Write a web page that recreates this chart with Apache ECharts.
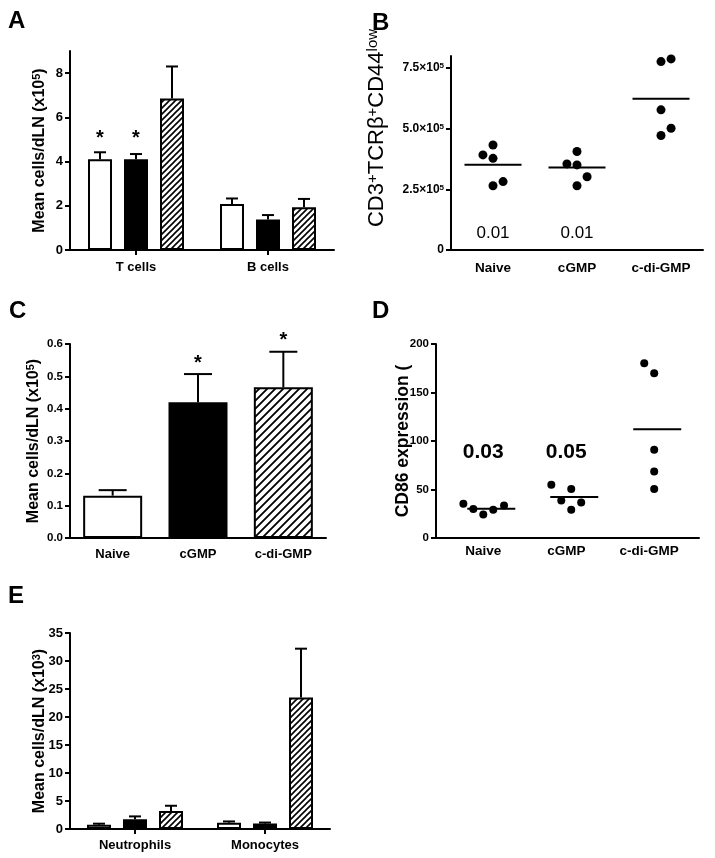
<!DOCTYPE html>
<html><head><meta charset="utf-8">
<script src="https://cdn.jsdelivr.net/npm/echarts@6/dist/echarts.min.js"></script>
<style>html,body{margin:0;padding:0;background:#fff}#c{width:715px;height:858px}</style>
</head><body><div id="c"></div>
<script>
// ---------- Panel A ----------
const catsA = ['T cells', 'B cells'];
const naiveA = [4.10, 2.08];
const naiveAErr = [0.32, 0.25];
const cgmpA = [4.10, 1.38];
const cgmpAErr = [0.24, 0.20];
const cdiA = [6.85, 1.93];
const cdiAErr = [1.45, 0.38];
const sigNaiveA = ['*', ''];
const sigCgmpA = ['*', ''];
const sigCdiA = ['', ''];
const ticksA = [0, 2, 4, 6, 8];

// ---------- Panel B ----------
const groupsBD = ['Naive', 'cGMP', 'c-di-GMP'];
const naiveB = [3.92e5, 4.33e5, 3.78e5, 2.65e5, 2.82e5];
const naiveBJit = [-0.12, 0, 0, 0, 0.12];
const cgmpB = [3.55e5, 4.06e5, 3.51e5, 3.02e5, 2.65e5];
const cgmpBJit = [-0.12, 0, 0, 0.12, 0];
const cdiB = [7.77e5, 7.88e5, 5.78e5, 5.02e5, 4.72e5];
const cdiBJit = [0, 0.12, 0, 0.12, 0];
const meansB = [3.52e5, 3.40e5, 6.24e5];
const pB = ['0.01', '0.01', ''];
const ticksB = [0, 2.5e5, 5e5, 7.5e5];

// ---------- Panel C ----------
const catsC = ['Naive', 'cGMP', 'c-di-GMP'];
const meansC = [0.131, 0.420, 0.466];
const errC = [0.017, 0.087, 0.110];
const sigC = ['', '*', '*'];
const ticksC = [0, 0.1, 0.2, 0.3, 0.4, 0.5, 0.6];

// ---------- Panel D ----------
const naiveD = [35.3, 29.8, 24.3, 29.1, 33.6];
const naiveDJit = [-0.24, -0.12, 0, 0.12, 0.25];
const cgmpD = [54.9, 50.4, 38.7, 36.6, 29.1];
const cgmpDJit = [-0.18, 0.06, -0.06, 0.18, 0.06];
const cdiD = [180.1, 169.8, 90.9, 68.6, 50.4];
const cdiDJit = [-0.06, 0.06, 0.06, 0.06, 0.06];
const meansD = [30.2, 42.2, 112.2];
const pD = ['0.03', '0.05', ''];
const ticksD = [0, 50, 100, 150, 200];

// ---------- Panel E ----------
const catsE = ['Neutrophils', 'Monocytes'];
const naiveE = [0.75, 1.10];
const naiveEErr = [0.20, 0.25];
const cgmpE = [1.75, 1.00];
const cgmpEErr = [0.50, 0.15];
const cdiE = [3.20, 23.5];
const cdiEErr = [0.95, 8.7];
const ticksE = [0, 5, 10, 15, 20, 25, 30, 35];

// ---------- styling helpers ----------
const FF = '"Liberation Sans", Arial, Helvetica, sans-serif';
function hatch(step, lw) {
  const c = document.createElement('canvas');
  c.width = c.height = step;
  const g = c.getContext('2d');
  g.fillStyle = '#fff'; g.fillRect(0, 0, step, step);
  g.strokeStyle = '#000'; g.lineWidth = lw; g.lineCap = 'square';
  g.beginPath();
  g.moveTo(-2, step + 2); g.lineTo(step + 2, -2);
  g.moveTo(-2, 2); g.lineTo(2, -2);
  g.moveTo(step - 2, step + 2); g.lineTo(step + 2, step - 2);
  g.stroke();
  return c;
}
const hatchSmall = { image: hatch(6, 1.6), repeat: 'repeat' };
const hatchBig = { image: hatch(8, 1.8), repeat: 'repeat' };

const axLine = { show: true, lineStyle: { color: '#000', width: 2 } };
const tickStyle = { color: '#000', width: 2 };

function yAxis(gi, max, ticks, fmt, fontSize, name, nameGap, nameRich, namePad) {
  return {
    type: 'value', gridIndex: gi, min: 0, max: max,
    axisLine: axLine,
    axisTick: { show: true, length: 5, lineStyle: tickStyle, customValues: ticks },
    axisLabel: { customValues: ticks, formatter: fmt, color: '#000', fontFamily: FF, fontWeight: 'bold', fontSize: fontSize, margin: 7,
      rich: { m: { fontFamily: FF, fontWeight: 'bold', fontSize: fontSize, color: '#000' }, s: { fontFamily: FF, fontWeight: 'bold', fontSize: 8, color: '#000', verticalAlign: 'top', lineHeight: 8 } } },
    splitLine: { show: false },
    name: name, nameLocation: 'middle', nameGap: nameGap, nameMoveOverlap: false,
    nameTextStyle: { rich: nameRich, padding: namePad || 0 }
  };
}
function richName(size, weight, supSize) {
  return {
    t: { fontFamily: FF, fontWeight: weight, fontSize: size, color: '#000', lineHeight: size + 2 },
    s: { fontFamily: FF, fontWeight: weight, fontSize: supSize, color: '#000', verticalAlign: 'top', lineHeight: supSize }
  };
}
function catX(gi, cats, showTick, fontSize, margin) {
  return {
    type: 'category', gridIndex: gi, data: cats,
    axisLine: axLine,
    axisTick: { show: showTick, alignWithLabel: true, length: 5, lineStyle: tickStyle },
    axisLabel: { color: '#000', fontFamily: FF, fontWeight: 'bold', fontSize: fontSize, margin: margin },
    splitLine: { show: false }
  };
}
function valX(gi, min, max, margin) {
  return {
    type: 'value', gridIndex: gi, min: min, max: max,
    axisLine: axLine,
    axisTick: { show: false, customValues: [1, 2, 3] },
    axisLabel: { customValues: [1, 2, 3], formatter: v => groupsBD[Math.round(v) - 1], color: '#000', fontFamily: FF, fontWeight: 'bold', fontSize: 13.5, margin: margin },
    splitLine: { show: false }
  };
}
function errSeries(gi, means, errs, sigs, offset, capHalf, starGap) {
  return {
    type: 'custom', xAxisIndex: gi, yAxisIndex: gi, z: 5, silent: true,
    data: means.map((m, i) => [i, m, m + errs[i]]),
    renderItem: (params, api) => {
      const p0 = api.coord([api.value(0), api.value(1)]);
      const p1 = api.coord([api.value(0), api.value(2)]);
      const x = p0[0] + offset;
      const ch = [
        { type: 'line', shape: { x1: x, y1: p0[1], x2: x, y2: p1[1] }, style: { stroke: '#000', lineWidth: 2 } },
        { type: 'line', shape: { x1: x - capHalf, y1: p1[1], x2: x + capHalf, y2: p1[1] }, style: { stroke: '#000', lineWidth: 2 } }
      ];
      const s = sigs[params.dataIndex];
      if (s) ch.push({ type: 'text', style: { text: s, x: x, y: p1[1] - starGap, fill: '#000', font: 'bold 20px ' + FF, textAlign: 'center', textVerticalAlign: 'middle' } });
      return { type: 'group', children: ch };
    }
  };
}
function barSeries(gi, data, fill, width) {
  return { type: 'bar', xAxisIndex: gi, yAxisIndex: gi, data: data, barWidth: width, barGap: '50%', z: 2, silent: true,
    itemStyle: { color: fill, borderColor: '#000', borderWidth: 2 } };
}
function dotSeries(gi, vals, jit, grp, size) {
  return { type: 'scatter', xAxisIndex: gi, yAxisIndex: gi, symbol: 'circle', symbolSize: size, silent: true,
    itemStyle: { color: '#000', opacity: 1 }, data: vals.map((v, i) => [grp + jit[i], v]) };
}
function meanSeries(gi, means, L, R) {
  return { type: 'custom', xAxisIndex: gi, yAxisIndex: gi, silent: true,
    data: means.map((m, i) => [i + 1, m]),
    renderItem: (params, api) => {
      const p = api.coord([api.value(0), api.value(1)]);
      return { type: 'line', shape: { x1: p[0] - L, y1: p[1], x2: p[0] + R, y2: p[1] }, style: { stroke: '#000', lineWidth: 2 } };
    } };
}
function textSeries(gi, texts, yVal, font) {
  return { type: 'custom', xAxisIndex: gi, yAxisIndex: gi, silent: true,
    data: texts.map((t, i) => [i + 1, yVal]),
    renderItem: (params, api) => {
      const p = api.coord([api.value(0), api.value(1)]);
      return { type: 'text', style: { text: texts[params.dataIndex], x: p[0], y: p[1], fill: '#000', font: font, textAlign: 'center', textVerticalAlign: 'middle' } };
    } };
}

const sup10 = (v, e) => `{m|${v}×10}{s|${e}}`;

const chart = echarts.init(document.getElementById('c'), null, { renderer: 'canvas' });
const option = {
  backgroundColor: '#fff',
  animation: false,
  grid: [
    { left: 70, top: 51, width: 264, height: 199 },
    { left: 451, top: 56, width: 252, height: 194 },
    { left: 70, top: 344, width: 256, height: 194 },
    { left: 436, top: 344, width: 263, height: 194 },
    { left: 70, top: 633, width: 260, height: 196 }
  ],
  xAxis: [
    catX(0, catsA, true, 13, 11),
    valX(1, 0.5, 3.5, 11),
    catX(2, catsC, false, 13, 10),
    valX(3, 0.43, 3.6, 6),
    catX(4, catsE, true, 13, 10)
  ],
  yAxis: [
    yAxis(0, 9, ticksA, v => String(v), 13, '{t|Mean cells/dLN (x10}{s|5}{t|)}', 21, richName(16, 'bold', 11)),
    yAxis(1, 8e5, ticksB, v => v === 0 ? '{m|0}' : sup10((v / 1e5).toFixed(1), '5'), 12, '{t|CD3}{s|+}{t|TCRβ}{s|+}{t|CD44}{s|low}', 62, richName(22, 'normal', 15), [0, 0, 0, 50]),
    yAxis(2, 0.6, ticksC, v => v.toFixed(1), 11.5, '{t|Mean cells/dLN (x10}{s|5}{t|)}', 27, richName(16, 'bold', 11)),
    yAxis(3, 200, ticksD, v => String(v), 11.5, '{t|CD86 expression (}', 23, richName(17.5, 'bold', 12)),
    yAxis(4, 35, ticksE, v => String(v), 13, '{t|Mean cells/dLN (x10}{s|3}{t|)}', 21, richName(16, 'bold', 11))
  ],
  series: [
    // A
    barSeries(0, naiveA, '#fff', 24),
    barSeries(0, cgmpA, '#000', 24),
    barSeries(0, cdiA, hatchSmall, 24),
    errSeries(0, naiveA, naiveAErr, sigNaiveA, -36, 6, 14),
    errSeries(0, cgmpA, cgmpAErr, sigCgmpA, 0, 6, 16),
    errSeries(0, cdiA, cdiAErr, sigCdiA, 36, 6, 14),
    // B
    dotSeries(1, naiveB, naiveBJit, 1, 9),
    dotSeries(1, cgmpB, cgmpBJit, 2, 9),
    dotSeries(1, cdiB, cdiBJit, 3, 9),
    meanSeries(1, meansB, 28.5, 28.5),
    textSeries(1, pB, 0.7e5, 'normal 17px ' + FF),
    // C
    { type: 'bar', xAxisIndex: 2, yAxisIndex: 2, barWidth: 59, z: 2, silent: true,
      data: meansC.map((v, i) => ({ value: v, itemStyle: { color: ['#fff', '#000', hatchBig][i], borderColor: '#000', borderWidth: 2 } })) },
    errSeries(2, meansC, errC, sigC, 0, 14, 11),
    // D
    dotSeries(3, naiveD, naiveDJit, 1, 8),
    dotSeries(3, cgmpD, cgmpDJit, 2, 8),
    dotSeries(3, cdiD, cdiDJit, 3, 8),
    meanSeries(3, meansD, 16, 32),
    textSeries(3, pD, 88, 'bold 21px ' + FF),
    // E
    barSeries(4, naiveE, '#fff', 24),
    barSeries(4, cgmpE, '#000', 24),
    barSeries(4, cdiE, hatchSmall, 24),
    errSeries(4, naiveE, naiveEErr, ['', ''], -36, 6, 18),
    errSeries(4, cgmpE, cgmpEErr, ['', ''], 0, 6, 18),
    errSeries(4, cdiE, cdiEErr, ['', ''], 36, 6, 18)
  ],
  graphic: [
    { type: 'text', left: 8, top: 9, style: { text: 'A', font: 'bold 24px ' + FF, fill: '#000' } },
    { type: 'text', left: 372, top: 11, style: { text: 'B', font: 'bold 24px ' + FF, fill: '#000' } },
    { type: 'text', left: 9, top: 299, style: { text: 'C', font: 'bold 24px ' + FF, fill: '#000' } },
    { type: 'text', left: 372, top: 299, style: { text: 'D', font: 'bold 24px ' + FF, fill: '#000' } },
    { type: 'text', left: 8, top: 584, style: { text: 'E', font: 'bold 24px ' + FF, fill: '#000' } }
  ]
};
chart.setOption(option);
</script>
</body></html>
